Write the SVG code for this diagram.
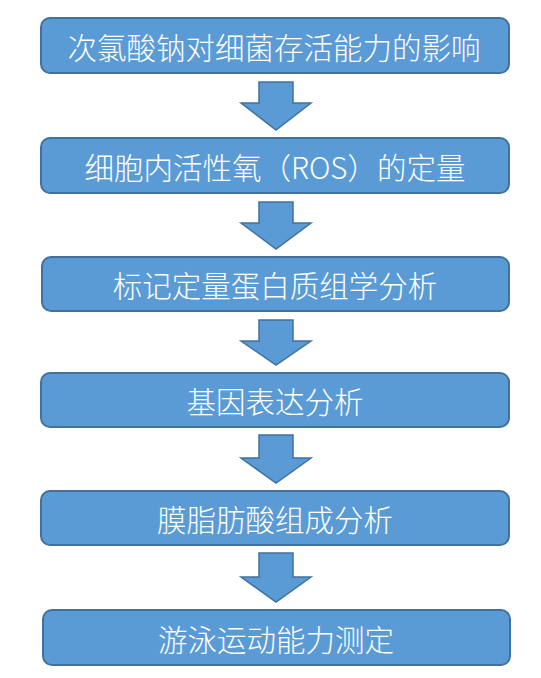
<svg xmlns="http://www.w3.org/2000/svg" width="541" height="678" viewBox="0 0 541 678">
<style>
.box{fill:#5B9BD5;stroke:#41719C;stroke-width:2}
.arr{fill:#5B9BD5;stroke:#41719C;stroke-width:1.5;stroke-linejoin:miter}
.t{fill:#fff;font-family:"Noto Sans CJK SC","Noto Sans",sans-serif;font-size:29.5px;font-weight:300;text-anchor:middle;dominant-baseline:central}
</style>
<rect width="541" height="678" fill="#fff"/>
<g id="connectors">
<polygon class="arr" points="259,82 293,82 293,103 311,103 276,130 241,103 259,103"/>
<polygon class="arr" points="259,202 293,202 293,223 311,223 276,249 241,223 259,223"/>
<polygon class="arr" points="259,320 293,320 293,341 311,341 276,365 241,341 259,341"/>
<polygon class="arr" points="259,435 293,435 293,458 311,458 276,483 241,458 259,458"/>
<polygon class="arr" points="259,553 293,553 293,577 311,577 276,602 241,577 259,577"/>
</g>
<g id="n1"><rect class="box" x="41" y="18" width="468" height="55" rx="9"/><text class="t" x="274" y="45.5">次氯酸钠对细菌存活能力的影响</text></g>
<g id="n2"><rect class="box" x="41" y="138" width="468" height="55" rx="9"/><text class="t" x="275" y="165.5">细胞内活性氧（ROS）的定量</text></g>
<g id="n3"><rect class="box" x="42" y="257" width="467" height="54" rx="9"/><text class="t" x="275" y="284">标记定量蛋白质组学分析</text></g>
<g id="n4"><rect class="box" x="41" y="373" width="468" height="54" rx="9"/><text class="t" x="275" y="400">基因表达分析</text></g>
<g id="n5"><rect class="box" x="41" y="491" width="468" height="54" rx="9"/><text class="t" x="275" y="518">膜脂肪酸组成分析</text></g>
<g id="n6"><rect class="box" x="43" y="610" width="467" height="55" rx="9"/><text class="t" x="276" y="637.5">游泳运动能力测定</text></g>
</svg>
